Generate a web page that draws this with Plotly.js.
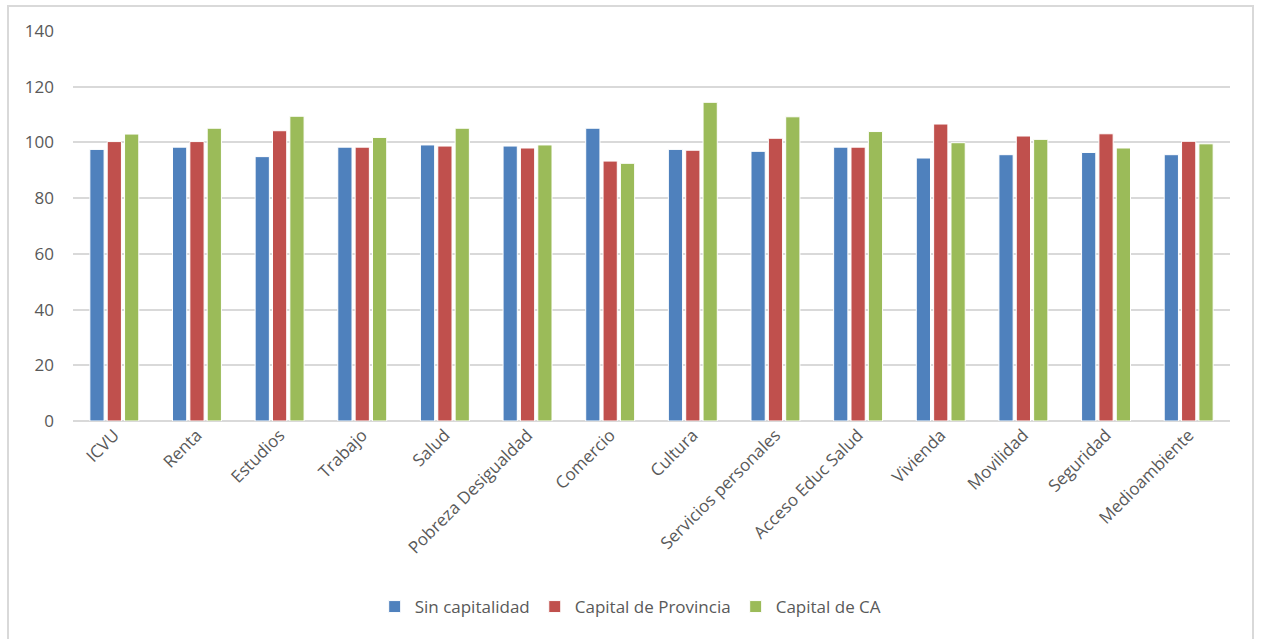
<!DOCTYPE html>
<html>
<head>
<meta charset="utf-8">
<script src="https://cdn.plot.ly/plotly-3.0.1.min.js"></script>
<style>
  html, body { margin: 0; padding: 0; background: #ffffff; }
  #wrap { position: relative; width: 1261px; height: 639px; overflow: hidden; }
  #chart { position: absolute; left: 0; top: 0; width: 1261px; height: 639px; }
  #frame { position: absolute; left: 7px; top: 5px; width: 1247px; height: 660px;
           border: 2px solid #D9D9D9; box-sizing: border-box; pointer-events: none; }
</style>
</head>
<body>
<div id="wrap">
  <div id="chart"></div>
  <div id="frame"></div>
</div>
<script>
const categories = ["ICVU", "Renta", "Estudios", "Trabajo", "Salud", "Pobreza Desigualdad",
  "Comercio", "Cultura", "Servicios personales", "Acceso Educ Salud", "Vivienda",
  "Movilidad", "Seguridad", "Medioambiente"];
const sinCapitalidad = [97.5, 98.3, 94.9, 98.3, 99.1, 98.7, 105.1, 97.5, 96.8, 98.3, 94.4, 95.6, 96.4, 95.6];
const capitalProvincia = [100.3, 100.3, 104.2, 98.3, 98.7, 98.0, 93.3, 97.2, 101.5, 98.3, 106.6, 102.3, 103.1, 100.4];
const capitalCA = [103.0, 105.1, 109.4, 101.8, 105.1, 99.1, 92.5, 114.4, 109.2, 103.9, 99.9, 101.1, 98.0, 99.5];
const seriesNames = ["Sin capitalidad", "Capital de Provincia", "Capital de CA"];
const yTicks = [0, 20, 40, 60, 80, 100, 120, 140];

const colors = ["#4F81BD", "#C0504D", "#9BBB59"];
const seriesValues = [sinCapitalidad, capitalProvincia, capitalCA];

const traces = seriesValues.map((vals, i) => ({
  type: "bar",
  name: seriesNames[i],
  x: categories,
  y: vals,
  marker: { color: colors[i], line: { color: "#ffffff", width: 1 } },
  hoverinfo: "x+y+name"
}));

const font = "'Open Sans', sans-serif";

const layout = {
  width: 1261,
  height: 639,
  margin: { l: 73, r: 31, t: 31, b: 218 },
  paper_bgcolor: "#ffffff",
  plot_bgcolor: "#ffffff",
  barmode: "group",
  bargap: 0.37,
  bargroupgap: 0.18,
  font: { family: font, color: "#595959", size: 17 },
  showlegend: true,
  legend: {
    orientation: "h",
    x: 0.482, xanchor: "center",
    y: -0.477, yanchor: "middle",
    font: { family: font, size: 17, color: "#595959" },
    itemwidth: 30,
    traceorder: "normal"
  },
  xaxis: {
    type: "category",
    tickangle: -45,
    tickfont: { family: font, size: 17, color: "#595959" },
    showgrid: false,
    showline: false,
    ticks: ""
  },
  yaxis: {
    range: [0, 140],
    tickvals: yTicks,
    ticktext: yTicks.map(String),
    tickfont: { family: font, size: 17, color: "#595959" },
    showgrid: true,
    gridcolor: "#D9D9D9",
    gridwidth: 1.5,
    zeroline: true,
    zerolinecolor: "#D9D9D9",
    zerolinewidth: 1.5,
    showline: false,
    ticks: "",
    ticklabelstandoff: 18
  }
};

Plotly.newPlot("chart", traces, layout, { displayModeBar: false, staticPlot: false });
</script>
</body>
</html>
